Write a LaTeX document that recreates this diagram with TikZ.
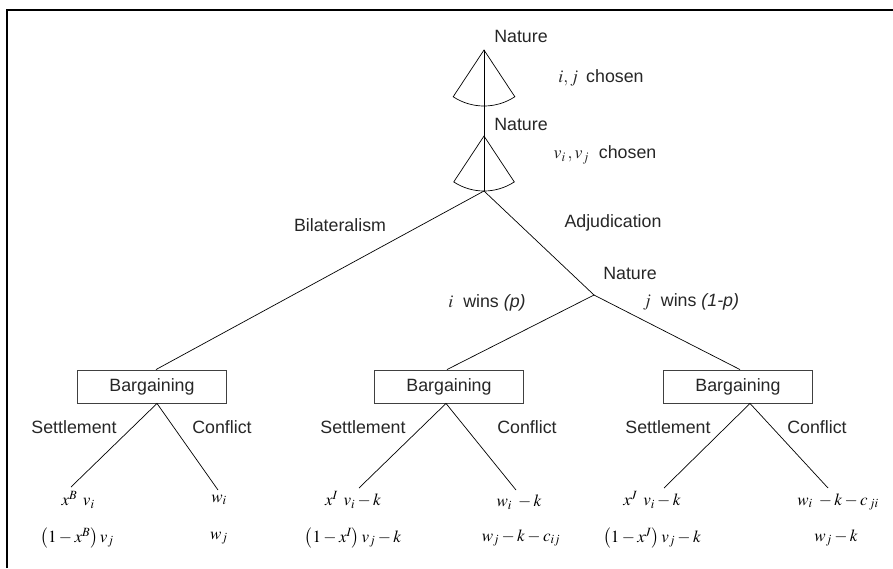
\documentclass[tikz,border=0pt]{standalone}
\usepackage{mathptmx}
\usepackage[no-math]{fontspec}
\setmainfont{Liberation Sans}
\begin{document}
\begin{tikzpicture}[x=1pt,y=-1pt,
  lbl/.style={inner sep=0pt,text=black!85,font=\fontsize{17.8}{20}\selectfont},
  pay/.style={inner sep=0pt,font=\fontsize{17}{20}\selectfont},
  bargbox/.style={draw=black!75,line width=0.9pt,minimum width=149pt,minimum height=33pt,inner sep=0pt,text=black!85,font=\fontsize{17.8}{20}\selectfont},
  edge/.style={line width=0.7pt},
  fan/.style={line width=0.7pt}]
\useasboundingbox (0,0) rectangle (893,568);
% frame
\draw[line width=2pt] (7,568) -- (7,10) -- (893,10);
% fans
\coordinate (n1) at (484,50);
\coordinate (n2) at (484,136);
\coordinate (root) at (484,191);
\draw[fan] (n1) -- ++(123.4:56) arc[start angle=123.4,end angle=56.6,radius=56] -- cycle;
\draw[fan] (n2) -- ++(123.4:55) arc[start angle=123.4,end angle=56.6,radius=55] -- cycle;
\draw[fan] (n1) -- (root);
% labels top
\node[lbl] (lnat1) at (521,36) {Nature};
\node[lbl] (lnat2) at (521,124) {Nature};
\node[lbl] (lij) at (601,78) {$i,j$\, chosen};
\node[lbl] (lvv) at (605,155) {$v_{i}\,,v_{j}$\; chosen};
% boxes
\node[bargbox] (b1) at (152,386.5) {Bargaining};
\node[bargbox] (b2) at (449,386.5) {Bargaining};
\node[bargbox] (b3) at (738,386.5) {Bargaining};
\coordinate (nat) at (594,295);
\draw[edge] (root) -- ([xshift=4pt]b1.north);
\draw[edge] (root) -- (nat);
\draw[edge] (nat) -- ([xshift=-2pt]b2.north);
\draw[edge] (nat) -- ([xshift=2pt]b3.north);
\node[lbl] (lbil) at (340,225) {Bilateralism};
\node[lbl] (ladj) at (613,223) {Adjudication};
\node[lbl] (lnat3) at (630,273) {Nature};
\node[lbl] (liw) at (487,303) {$i$\; wins \textit{(p)}};
\node[lbl] (ljw) at (691,302) {$j$\; wins \textit{(1-p)}};
% leaves
\coordinate (l1) at (71,487);
\coordinate (r1) at (218,490);
\coordinate (l2) at (359,488);
\coordinate (r2) at (516,490);
\coordinate (l3) at (664,488);
\coordinate (r3) at (828,488);
\draw[edge] (l1) -- ([xshift=5pt]b1.south) -- (r1);
\draw[edge] (l2) -- ([xshift=-3pt]b2.south) -- (r2);
\draw[edge] (l3) -- ([xshift=12pt]b3.south) -- (r3);
\node[lbl] (s1) at (74,427) {Settlement};
\node[lbl] (c1) at (222,427) {Conflict};
\node[lbl] (s2) at (363,427) {Settlement};
\node[lbl] (c2) at (527,427) {Conflict};
\node[lbl] (s3) at (668,427) {Settlement};
\node[lbl] (c3) at (817,427) {Conflict};
% payoffs
\node[pay] (p1a) at (78,500) {$x^{B}\;\,v_{i}$};
\node[pay] (p1b) at (77,538) {$\left(1-x^{B}\right)v_{j}$};
\node[pay] (q1a) at (219,500) {$w_{i}$};
\node[pay] (q1b) at (219,538) {$w_{j}$};
\node[pay] (p2a) at (353,500) {$x^{I}\;\,v_{i}-k$};
\node[pay] (p2b) at (353,538) {$\left(1-x^{I}\right)v_{j}-k$};
\node[pay] (q2a) at (519,502) {$w_{i}\;-k$};
\node[pay] (q2b) at (521,538) {$w_{j}-k-c_{ij}$};
\node[pay] (p3a) at (652,500) {$x^{J}\;\,v_{i}-k$};
\node[pay] (p3b) at (652,538) {$\left(1-x^{J}\right)v_{j}-k$};
\node[pay] (q3a) at (838,502) {$w_{i}\;-k-c_{\,ji}$};
\node[pay] (q3b) at (836,538) {$w_{j}-k$};
\end{tikzpicture}
\end{document}
